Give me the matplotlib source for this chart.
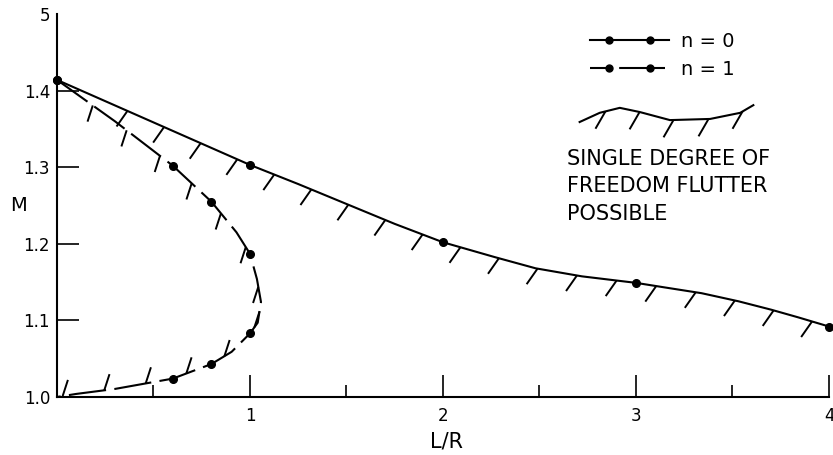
"""M vs L/R boundary for single degree of freedom flutter (n = 0, n = 1)."""
import matplotlib
matplotlib.use("Agg")
import matplotlib.pyplot as plt
from matplotlib.lines import Line2D
from matplotlib.legend_handler import HandlerLine2D
import numpy as np

# n = 0 : computed points and the faired curve through them
n0_x = [0.0, 1.0, 2.0, 3.0, 4.0]
n0_m = [1.414, 1.303, 1.202, 1.149, 1.092]
n0_curve_x = [0.0, 1.0, 1.25, 1.5, 1.75, 2.0, 2.27, 2.48, 2.72, 3.0, 3.15, 3.34, 3.53, 3.70, 3.84, 4.0]
n0_curve_m = [1.414, 1.303, 1.278, 1.252, 1.226, 1.202, 1.1825, 1.168, 1.1575, 1.149,
              1.143, 1.1355, 1.125, 1.114, 1.104, 1.092]

# n = 1 : computed points and the faired curve through them
n1_x = [0.0, 0.6, 0.8, 1.0, 1.0, 0.8, 0.6]
n1_m = [1.414, 1.302, 1.255, 1.187, 1.083, 1.043, 1.024]
n1_curve_x = [0.0, 0.3, 0.6, 0.8, 0.93, 1.0, 1.036, 1.057, 1.04, 1.0, 0.905, 0.8, 0.6, 0.3, 0.1, 0.0]
n1_curve_m = [1.414, 1.36, 1.302, 1.255, 1.215, 1.187, 1.154, 1.124, 1.097, 1.083, 1.059, 1.043, 1.024, 1.0105, 1.004, 1.0]

xticks = [1, 2, 3, 4]
xminor = [0.5, 1.5, 2.5, 3.5]
yticks = [1.0, 1.1, 1.2, 1.3, 1.4, 1.5]
ytick_labels = ["1.0", "1.1", "1.2", "1.3", "1.4", "5"]

# legend glyph for the hatched boundary (axes fraction)
glyph_x = [0.677, 0.703, 0.729, 0.755, 0.794, 0.846, 0.885, 0.902]
glyph_y = [0.718, 0.742, 0.755, 0.744, 0.723, 0.726, 0.742, 0.762]

plt.rcParams["font.family"] = ["DejaVu Sans"]


def hatch(ax, xs, ys, transform, spacing, length, angle, start):
    """Short fixed-slope strokes along a curve, on the right-hand side of travel (pixels)."""
    pts = transform.transform(np.column_stack([xs, ys]))
    seg = np.diff(pts, axis=0)
    seglen = np.hypot(seg[:, 0], seg[:, 1])
    cum = np.r_[0, np.cumsum(seglen)]
    u = np.array([np.cos(np.radians(angle)), np.sin(np.radians(angle))])
    inv = transform.inverted()
    for s in np.arange(start, cum[-1], spacing):
        i = min(np.searchsorted(cum, s, side="right") - 1, len(seg) - 1)
        h = seg[i] / seglen[i]
        p = pts[i] + (s - cum[i]) * h
        d = u if (h[0] * u[1] - h[1] * u[0]) < 0 else -u
        a, b = inv.transform([p, p + length * d])
        ax.plot([a[0], b[0]], [a[1], b[1]], transform=transform,
                color="black", lw=1.4, clip_on=False, solid_capstyle="butt")


fig = plt.figure(figsize=(8.33, 4.55), dpi=100)
ax = fig.add_axes([0.0684, 0.1275, 0.9268, 0.8417])
ax.set_xlim(0, 4)
ax.set_ylim(1.0, 1.5)

lw = 1.5
dash = (18, 4)

# curves
ax.plot(n0_curve_x, n0_curve_m, color="black", lw=lw, clip_on=False)
ax.plot(n1_curve_x, n1_curve_m, color="black", lw=lw, dashes=dash, clip_on=False)
ax.plot(n0_x, n0_m, "o", color="black", ms=5.5, clip_on=False)
ax.plot(n1_x, n1_m, "o", color="black", ms=5.5, clip_on=False)

# hatching on the flutter side
hatch(ax, n0_curve_x, n0_curve_m, ax.transData, spacing=40, length=19, angle=-125, start=77)
hatch(ax, n1_curve_x, n1_curve_m, ax.transData, spacing=42, length=17, angle=-108, start=44)

for s in ["top", "right"]:
    ax.spines[s].set_visible(False)
for s in ["left", "bottom"]:
    ax.spines[s].set_linewidth(1.5)

ax.set_xticks(xticks)
ax.set_xticklabels([str(t) for t in xticks])
ax.set_xticks(xminor, minor=True)
ax.set_yticks(yticks)
ax.set_yticklabels(ytick_labels)
ax.tick_params(axis="both", which="major", direction="in", length=16, width=1.2,
               labelsize=12, pad=7)
ax.tick_params(axis="y", pad=5)
ax.tick_params(axis="x", which="minor", direction="in", length=9, width=1.2)
ax.yaxis.get_major_ticks()[-1].tick1line.set_visible(False)

ax.set_ylabel("M", rotation=0, fontsize=14, va="center", ha="center")
ax.yaxis.set_label_coords(-0.05, 0.5)
ax.set_xlabel("L/R", fontsize=15)
ax.xaxis.set_label_coords(0.505, -0.09)

# legend for the two modes: full-length line plus two inset dots
line0 = Line2D([], [], color="black", lw=lw)
line1 = Line2D([], [], color="black", lw=lw, dashes=(10, 4, 22, 4))
dots = Line2D([], [], ls="none", color="black", marker="o", ms=5)
ax.legend([(line0, dots), (line1, dots)], ["n = 0", "n = 1"], loc="upper left",
          bbox_to_anchor=(0.69, 0.954), frameon=False, fontsize=14,
          handlelength=4.1, handletextpad=0.6, labelspacing=0.46,
          borderpad=0, borderaxespad=0,
          handler_map={line0: HandlerLine2D(marker_pad=0, numpoints=2),
                       line1: HandlerLine2D(marker_pad=0, numpoints=2),
                       dots: HandlerLine2D(marker_pad=1.0, numpoints=2)})

# hatched boundary glyph + note
ax.plot(glyph_x, glyph_y, color="black", lw=lw, transform=ax.transAxes, clip_on=False)
hatch(ax, glyph_x, glyph_y, ax.transAxes, spacing=35, length=20, angle=-120, start=28)
ax.text(0.661, 0.648, "SINGLE DEGREE OF\nFREEDOM FLUTTER\nPOSSIBLE",
        transform=ax.transAxes, ha="left", va="top", fontsize=15,
        linespacing=1.47)

fig.savefig("out.png", dpi=100)
